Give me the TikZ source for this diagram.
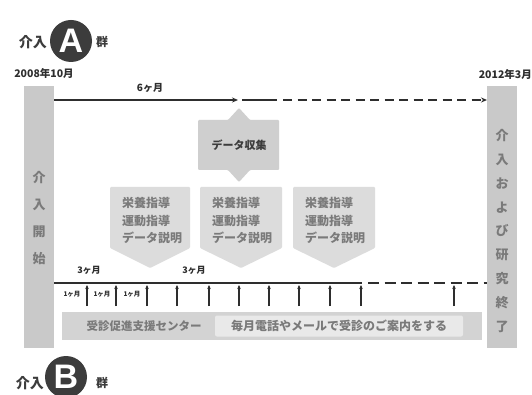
\documentclass[tikz,border=0pt]{standalone}
\usepackage{fontspec}
\setmainfont{Noto Sans CJK JP}
\newfontfamily\latinbold{Liberation Sans}
\usetikzlibrary{arrows.meta}
\definecolor{bargray}{HTML}{C9C9C9}
\definecolor{boxgray}{HTML}{DCDCDC}
\definecolor{datagray}{HTML}{CFCFCF}
\definecolor{bandgray}{HTML}{D3D3D3}
\definecolor{innergray}{HTML}{E9E9E9}
\definecolor{linedark}{HTML}{2E2E2E}
\definecolor{txtgray}{HTML}{7A7A7A}
\definecolor{circdark}{HTML}{3C3C3C}
\tikzset{
  bar/.style={fill=bargray, draw=none, inner sep=0pt, outer sep=0pt, minimum width=30pt, minimum height=262pt, anchor=north west},
  vtext/.style={text=txtgray, align=center, inner sep=0pt, font=\bfseries\fontsize{13}{#1}\selectfont},
  tl/.style={line width=2pt, draw=linedark},
  tip/.style={-{Stealth[length=6pt,width=5pt]}},
  uparrow/.style={line width=1.4pt, draw=linedark, -{Stealth[length=4pt,width=3.5pt]}},
  lbl/.style={text=linedark, inner sep=0pt, font=\bfseries\fontsize{#1}{#1}\selectfont},
  boxtxt/.style={text=txtgray, align=left, inner sep=0pt, font=\bfseries\fontsize{12}{17.5}\selectfont, anchor=north west},
  circ/.style={circle, fill=circdark, minimum size=42pt, inner sep=0pt, text=white, font=\latinbold\bfseries\fontsize{34}{34}\selectfont},
  grp/.style={text=circdark, inner sep=0pt, font=\bfseries\fontsize{#1}{#1}\selectfont},
}
\begin{document}
\begin{tikzpicture}[x=1pt,y=-1pt]
\useasboundingbox (0,0) rectangle (532,395);
\fill[white] (0,0) rectangle (532,395);

% group A header
\node[circ] (ca) at (71,41) {A};
\node[grp=14, anchor=east] (ga1) at (47,42) {介入};
\node[grp=12, anchor=west] (ga2) at (96,42) {群};
\node[lbl=10.5] (d1) at (44,73) {2008年10月};
\node[lbl=10.5, anchor=east] (d2) at (532,74) {2012年3月};

% side bars
\node[bar] (lbar) at (24,86) {};
\node[bar] (rbar) at (487,86) {};
\node[vtext=27] (ltxt) at (39,218) {介\\入\\開\\始};
\node[vtext=23.8] (rtxt) at (502,231) {介\\入\\お\\よ\\び\\研\\究\\終\\了};

% top timeline
\coordinate (a0) at (lbar.east |- 0,100);
\coordinate (a1) at (238,100);
\coordinate (a2) at (242,100);
\coordinate (a3) at (277,100);
\coordinate (a4) at (283,100);
\coordinate (a5) at (rbar.west |- 0,100);
\draw[tl,tip] (a0) -- (a1);
\draw[tl] (a2) -- (a3);
\draw[tl,tip,dash pattern=on 9pt off 5.5pt] (a4) -- (a5);
\node[lbl=10] (m6) at (150,88) {6ヶ月};

% data collection shape
\fill[datagray, rounded corners=1pt] (198,120) -- (228,120) -- (239,108) -- (250,120) -- (279,120) -- (279,170) -- (250,170) -- (239,182) -- (228,170) -- (198,170) -- cycle;
\node[text=circdark, inner sep=0pt, font=\bfseries\fontsize{11}{11}\selectfont] (dc) at (239,145) {データ収集};

% three guidance boxes
\foreach \xl/\xr/\nm in {110/190/g1, 200/282/g2, 293/375/g3}{
  \fill[boxgray, rounded corners=1pt] (\xl,187) -- (\xr,187) -- (\xr,248) -- ({(\xl+\xr)/2},268) -- (\xl,248) -- cycle;
  \node[boxtxt] (\nm) at (\xl+12,197) {栄養指導\\運動指導\\データ説明};
}

% bottom timeline
\coordinate (b0) at (lbar.east |- 0,283);
\coordinate (b1) at (362,283);
\coordinate (b2) at (368,283);
\coordinate (b3) at (rbar.west |- 0,283);
\draw[tl] (b0) -- (b1);
\draw[tl,dash pattern=on 11pt off 5.5pt] (b2) -- (b3);
\foreach \x in {87,116,147,177,209,239,269,299,330,361,454}{
  \coordinate (u\x) at (\x,306);
  \coordinate (v\x) at (\x,285);
  \draw[uparrow] (u\x) -- (v\x);
}
\node[lbl=9] (m3a) at (89,270) {3ヶ月};
\node[lbl=9] (m3b) at (194,270) {3ヶ月};
\node[lbl=6.5] (m1a) at (72,294) {1ヶ月};
\node[lbl=6.5] (m1b) at (102,294) {1ヶ月};
\node[lbl=6.5] (m1c) at (132,294) {1ヶ月};

% support center band
\node[fill=bandgray, inner sep=0pt, minimum width=420pt, minimum height=28pt, anchor=north west] (band) at (62,312) {};
\node[text=txtgray, inner sep=0pt, font=\bfseries\fontsize{11.5}{11.5}\selectfont] (sc) at (144,326) {受診促進支援センター};
\node[fill=innergray, rounded corners=2pt, text=txtgray, inner sep=0pt, minimum width=248pt, minimum height=21pt, font=\bfseries\fontsize{12}{12}\selectfont] (msg) at (339,326) {毎月電話やメールで受診のご案内をする};

% group B header
\node[circ] (cb) at (66,377) {B};
\node[grp=14, anchor=east] (gb1) at (44,383) {介入};
\node[grp=12, anchor=west] (gb2) at (96,383) {群};
\end{tikzpicture}
\end{document}
